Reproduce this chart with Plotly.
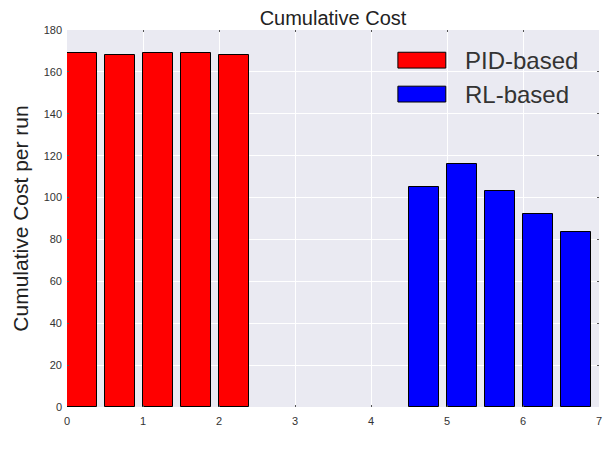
import plotly.graph_objects as go

# Run positions (left bar edges) and cumulative cost per run
pid_runs = [0.0, 0.5, 1.0, 1.5, 2.0]
pid_cost = [169.0, 168.2, 169.0, 169.0, 168.3]
rl_runs = [4.5, 5.0, 5.5, 6.0, 6.5]
rl_cost = [105.2, 116.0, 102.9, 92.2, 83.6]

series_names = ["PID-based", "RL-based"]
series_colors = ["#FF0000", "#0000FF"]
x_ticks = [0, 1, 2, 3, 4, 5, 6, 7]
y_ticks = [0, 20, 40, 60, 80, 100, 120, 140, 160, 180]

BAR_W = 0.4
FONT = "Liberation Sans, Arial, sans-serif"

fig = go.Figure()
for runs, cost, name, color in [
    (pid_runs, pid_cost, series_names[0], series_colors[0]),
    (rl_runs, rl_cost, series_names[1], series_colors[1]),
]:
    fig.add_trace(go.Bar(
        x=runs, y=cost, name=name, width=BAR_W, offset=0,
        marker=dict(color=color, line=dict(color="black", width=1)),
        showlegend=False,
    ))

# Legend drawn as swatches + labels in the upper right of the axes
legend_y = [0.92, 0.83]
for name, color, ly in zip(series_names, series_colors, legend_y):
    fig.add_shape(type="rect", xref="paper", yref="paper",
                  x0=0.622, x1=0.712, y0=ly - 0.021, y1=ly + 0.021,
                  fillcolor=color, line=dict(color="black", width=1))
    fig.add_annotation(xref="paper", yref="paper", x=0.745, y=ly,
                       text=name, showarrow=False, xanchor="left",
                       yanchor="middle",
                       font=dict(family=FONT, size=24, color="#333333"))

axis_common = dict(
    showgrid=True, gridcolor="white", gridwidth=1,
    zeroline=False, showline=False,
    ticks="inside", ticklen=2, tickcolor="#555555", mirror="ticks",
    tickfont=dict(family=FONT, size=11, color="#333333"),
)

fig.update_layout(
    width=616, height=453,
    margin=dict(l=67, r=17, t=30, b=46),
    paper_bgcolor="white", plot_bgcolor="#EAEAF2",
    bargap=0,
    title=dict(text="Cumulative Cost", x=0.5406, xanchor="center",
               y=0.96, yanchor="middle",
               font=dict(family=FONT, size=20, color="#222222")),
    xaxis=dict(range=[0, 7], tickvals=x_ticks, ticklabelstandoff=6,
               **axis_common),
    yaxis=dict(range=[0, 180], tickvals=y_ticks, ticklabelstandoff=4,
               title=dict(text="Cumulative Cost per run", standoff=9,
                          font=dict(family=FONT, size=21, color="#222222")),
               **axis_common),
)

fig.write_html("out.html")
